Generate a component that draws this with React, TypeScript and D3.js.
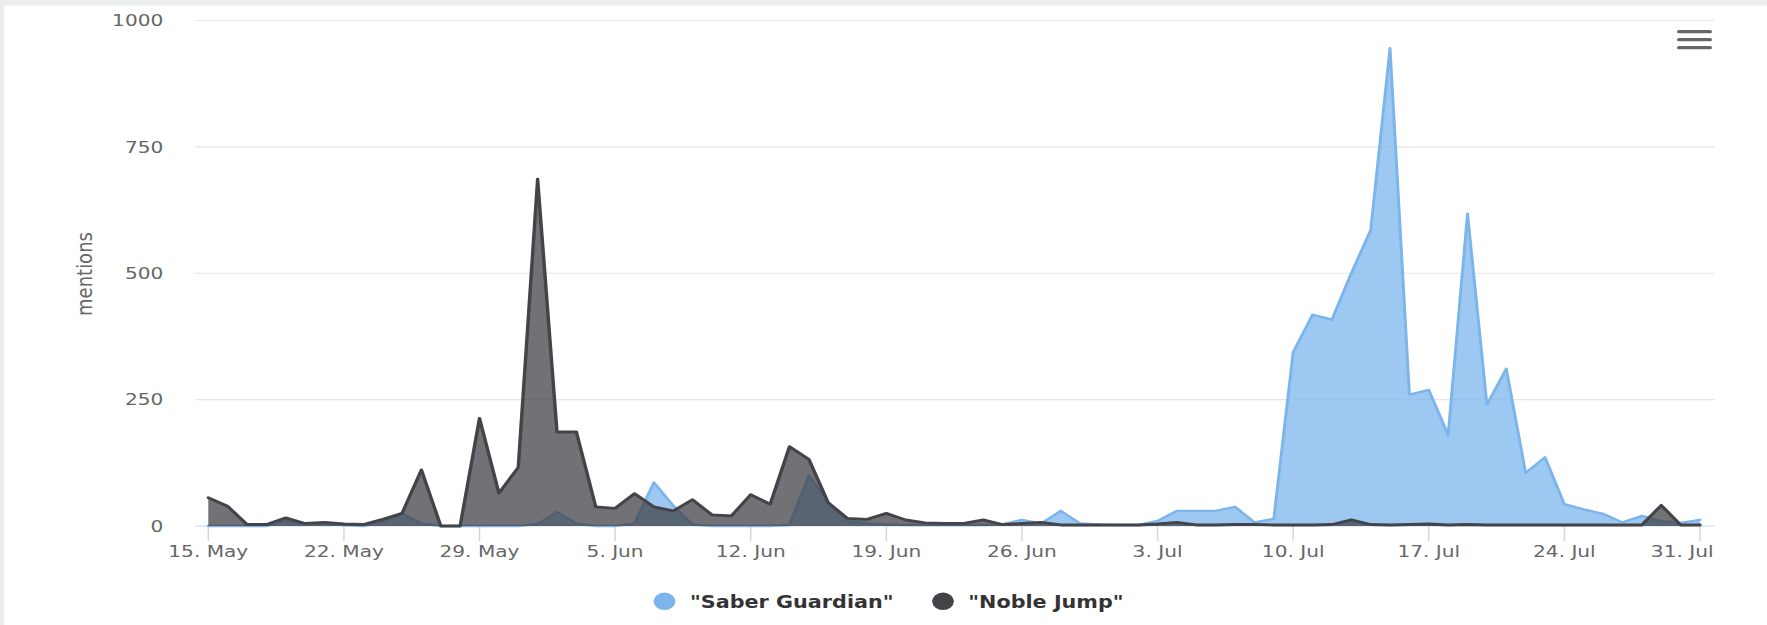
import React, { useEffect, useRef } from "react";
import * as d3 from "d3";

// ---------- data ----------
const START_DATE = "2017-05-15";
const SERIES_NAMES = ['"Saber Guardian"', '"Noble Jump"'];
const SERIES_COLORS = ["#7cb5ec", "#434348"];

const SABER_GUARDIAN = [
  0, 0, 0, 0, 10, 5, 3, 2, 0, 8, 25, 5,
  0, 0, 0, 0, 0, 4, 28, 5, 0, 0, 5, 86,
  40, 3, 0, 0, 0, 0, 2, 100, 46, 10, 5, 3,
  2, 2, 2, 2, 2, 3, 12, 5, 30, 5, 3, 2,
  2, 10, 30, 30, 30, 38, 7, 14, 344, 418, 408, 500,
  585, 945, 260, 269, 180, 618, 240, 311, 105, 136, 43, 33,
  24, 7, 20, 10, 6, 12,
];

const NOBLE_JUMP = [
  56, 39, 3, 3, 16, 5, 7, 4, 3, 13, 25, 111,
  0, 0, 213, 65, 116, 686, 186, 186, 38, 35, 64, 38,
  30, 52, 22, 20, 62, 43, 157, 132, 46, 15, 13, 25,
  12, 6, 5, 5, 12, 3, 5, 7, 2, 2, 2, 2,
  2, 4, 7, 2, 2, 3, 3, 2, 2, 2, 3, 12,
  3, 2, 3, 4, 2, 3, 2, 2, 2, 2, 2, 2,
  2, 2, 2, 41, 2, 2,
];

const Y_TICKS = [0, 250, 500, 750, 1000];
const X_TICK_DATES = [
  "2017-05-15", "2017-05-22", "2017-05-29", "2017-06-05", "2017-06-12", "2017-06-19",
  "2017-06-26", "2017-07-03", "2017-07-10", "2017-07-17", "2017-07-24", "2017-07-31",
];
const X_TICK_LABELS = [
  "15. May", "22. May", "29. May", "5. Jun", "12. Jun", "19. Jun",
  "26. Jun", "3. Jul", "10. Jul", "17. Jul", "24. Jul", "31. Jul",
];
const Y_TITLE = "mentions";

// ---------- layout ----------
const FULL_W = 1767;
const FULL_H = 625;
const SX = 1.22; // horizontal stretch of the reference
const W = FULL_W / SX;
const fx = (v: number) => v / SX;

const PLOT_LEFT = fx(195);
const PLOT_RIGHT = fx(1715);
const X_FIRST = fx(208.3);
const X_LAST = fx(1700);
const Y_ZERO = 526;
const Y_TOP = 20.5;
const FONT = "'DejaVu Sans', Verdana, sans-serif";

export default function App() {
  const ref = useRef<SVGSVGElement | null>(null);

  useEffect(() => {
    const svg = d3.select(ref.current);
    svg.selectAll("*").remove();

    const parse = d3.timeParse("%Y-%m-%d");
    const start = parse(START_DATE) as Date;
    const n = SABER_GUARDIAN.length;
    const dates = d3.range(n).map((i) => d3.timeDay.offset(start, i));

    const x = d3.scaleTime().domain([dates[0], dates[n - 1]]).range([X_FIRST, X_LAST]);
    const y = d3.scaleLinear().domain([0, 1000]).range([Y_ZERO, Y_TOP]);

    // background card
    svg.append("rect").attr("x", 0).attr("y", 0).attr("width", W).attr("height", FULL_H).attr("fill", "#ececec");
    svg.append("rect").attr("x", fx(3.3)).attr("y", 5).attr("width", W).attr("height", FULL_H)
      .attr("fill", "#ffffff").attr("stroke", "#e3eef6").attr("stroke-width", 1.2);

    // grid
    const grid = svg.append("g");
    grid.selectAll("line").data(Y_TICKS.filter((t) => t > 0)).join("line")
      .attr("x1", PLOT_LEFT).attr("x2", PLOT_RIGHT)
      .attr("y1", (d) => y(d)).attr("y2", (d) => y(d))
      .attr("stroke", "#e6e6e6").attr("stroke-width", 1.2);

    // y labels
    svg.append("g").selectAll("text").data(Y_TICKS).join("text")
      .attr("x", fx(163.3)).attr("y", (d) => y(d)).attr("dy", "0.35em")
      .attr("text-anchor", "end").attr("font-family", FONT).attr("font-size", 16.5).attr("fill", "#666666")
      .text((d) => String(d));

    // y title
    svg.append("text")
      .attr("transform", `translate(${fx(84.5)},274) rotate(-90)`)
      .attr("dy", "0.35em").attr("text-anchor", "middle")
      .attr("font-family", FONT).attr("font-size", 18).attr("fill", "#666666")
      .text(Y_TITLE);

    // x axis line + ticks
    svg.append("line").attr("x1", PLOT_LEFT).attr("x2", PLOT_RIGHT).attr("y1", Y_ZERO).attr("y2", Y_ZERO)
      .attr("stroke", "#ccd6eb").attr("stroke-width", 1.2);
    const tickDates = X_TICK_DATES.map((s) => parse(s) as Date);
    svg.append("g").selectAll("line").data(tickDates).join("line")
      .attr("x1", (d) => x(d)).attr("x2", (d) => x(d)).attr("y1", Y_ZERO).attr("y2", Y_ZERO + 15)
      .attr("stroke", "#ccd6eb").attr("stroke-width", 1.2);

    // series
    const series = [SABER_GUARDIAN, NOBLE_JUMP];
    series.forEach((vals, si) => {
      const pts = vals.map((v, i) => ({ d: dates[i], v }));
      const area = d3.area<{ d: Date; v: number }>()
        .x((p) => x(p.d)).y0(y(0)).y1((p) => y(p.v));
      const line = d3.line<{ d: Date; v: number }>()
        .x((p) => x(p.d)).y((p) => y(p.v));
      const g = svg.append("g");
      g.append("path").attr("d", area(pts) as string)
        .attr("fill", SERIES_COLORS[si]).attr("fill-opacity", 0.75);
      g.append("path").attr("d", line(pts) as string)
        .attr("fill", "none").attr("stroke", SERIES_COLORS[si])
        .attr("stroke-width", si === 1 ? 2.8 : 2.4)
        .attr("stroke-linejoin", "round").attr("stroke-linecap", "round");
    });

    // x labels
    const xl = svg.append("g").selectAll("text").data(tickDates).join("text")
      .attr("x", (d) => x(d)).attr("y", 556.7)
      .attr("text-anchor", "middle").attr("font-family", FONT).attr("font-size", 16.5).attr("fill", "#666666")
      .text((_, i) => X_TICK_LABELS[i]);
    const maxRight = fx(1713.5);
    xl.each(function (d) {
      const el = this as SVGTextElement;
      const w = el.getComputedTextLength();
      const cx = x(d);
      if (cx + w / 2 > maxRight) el.setAttribute("x", String(maxRight - w / 2));
    });

    // legend
    const legendItems = [
      { cx: fx(664.5), tx: fx(690) },
      { cx: fx(943), tx: fx(968.3) },
    ];
    legendItems.forEach((li, i) => {
      svg.append("ellipse").attr("cx", li.cx).attr("cy", 601.3).attr("rx", 8.9).attr("ry", 8.7)
        .attr("fill", SERIES_COLORS[i]);
      svg.append("text").attr("x", li.tx).attr("y", 608)
        .attr("font-family", FONT).attr("font-size", 17).attr("font-weight", "bold").attr("fill", "#333333")
        .text(SERIES_NAMES[i]);
    });

    // menu icon
    [31.7, 39.7, 47.7].forEach((yy) => {
      svg.append("line").attr("x1", fx(1679)).attr("x2", fx(1710)).attr("y1", yy).attr("y2", yy)
        .attr("stroke", "#666666").attr("stroke-width", 3.3).attr("stroke-linecap", "round");
    });
  }, []);

  return (
    <svg
      ref={ref}
      width={FULL_W}
      height={FULL_H}
      viewBox={`0 0 ${W} ${FULL_H}`}
      preserveAspectRatio="none"
      style={{ position: "absolute", left: 0, top: 0, display: "block" }}
    />
  );
}
